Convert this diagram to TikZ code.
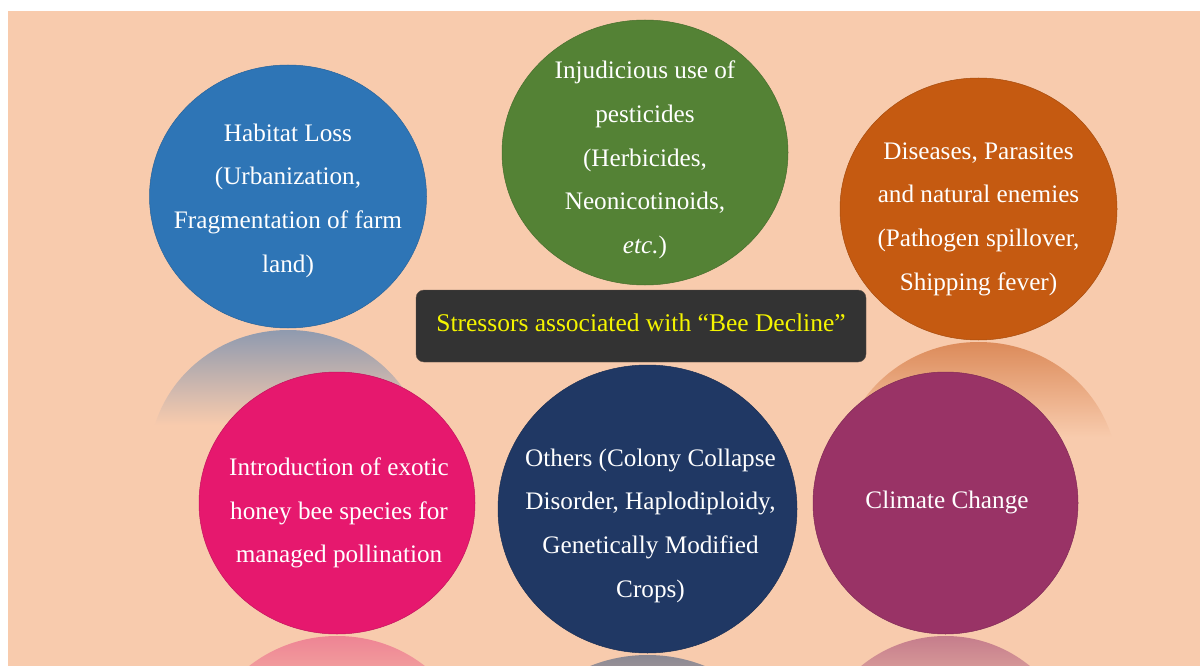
\documentclass[tikz,border=0pt]{standalone}
\usepackage{fontspec}
\setmainfont{Liberation Serif}
\usetikzlibrary{shapes.geometric}

\definecolor{peach}{HTML}{F8CBAD}
\definecolor{habitatblue}{HTML}{2E75B6}
\definecolor{pesticidegreen}{HTML}{548235}
\definecolor{diseaseorange}{HTML}{C55A11}
\definecolor{exoticpink}{HTML}{E6186E}
\definecolor{othersnavy}{HTML}{203864}
\definecolor{climatepurple}{HTML}{993366}
\definecolor{boxgrey}{HTML}{333333}
\definecolor{boxedge}{HTML}{5E524A}
\definecolor{titleyellow}{HTML}{F4F400}
\definecolor{bluetint}{HTML}{8F9AAF}
\definecolor{orangetint}{HTML}{DC8B5A}
\definecolor{pinktint}{HTML}{EE8494}
\definecolor{navytint}{HTML}{8A8893}
\definecolor{purpletint}{HTML}{C57D8C}

\begin{document}
\begin{tikzpicture}[
  x = 1pt, y = -1pt,
  stressor/.style = {
    shape = ellipse,
    draw = #1!85!black,
    line width = 0.5pt,
    fill = #1,
    inner sep = 0pt,
    outer sep = 0pt,
  },
  caption/.style = {
    text = white,
    align = center,
    inner sep = 0pt,
    font = \fontsize{25.2}{43.7}\selectfont,
  }
]
  \useasboundingbox (0, 0) rectangle (1200, 666);
  \fill[white] (0, 0) rectangle (1200, 666);
  \fill[peach] (8, 11) rectangle (1200, 666);

  % mirrored, fading copies under the circles
  \foreach \cx/\ty/\rx/\ry/\tint in {
      288/330/138.5/131.5/bluetint, 978.5/342/138.5/131/orangetint,
      337/636/138/131/pinktint, 647.5/655/149.5/144/navytint,
      945.5/636/132.5/131/purpletint} {
    \begin{scope}
      \clip (\cx, \ty+\ry) ellipse [x radius = \rx, y radius = \ry];
      \shade[top color = \tint, bottom color = peach]
        (\cx-\rx, \ty) rectangle (\cx+\rx, \ty+95);
    \end{scope}
  }

  \node[stressor = habitatblue, minimum width = 277, minimum height = 263] (habitat) at (288, 196.5) {};
  \node[stressor = pesticidegreen, minimum width = 286, minimum height = 265] (pesticide) at (645, 152.5) {};
  \node[stressor = diseaseorange, minimum width = 277, minimum height = 262] (disease) at (978.5, 209) {};
  \node[stressor = exoticpink, minimum width = 276, minimum height = 262] (exotic) at (337, 503) {};
  \node[stressor = othersnavy, minimum width = 299, minimum height = 288] (others) at (647.5, 509) {};
  \node[stressor = climatepurple, minimum width = 265, minimum height = 262] (climate) at (945.5, 503) {};

  \node[fill = boxgrey, draw = boxedge, rounded corners = 8pt,
    minimum width = 450, minimum height = 72, text depth = 7pt,
    text = titleyellow, font = \fontsize{25.5}{30}\selectfont]
    (stressors) at (641, 326) {Stressors associated with “Bee Decline”};

  \node[caption] (habitat-text) at ([yshift = -4pt]habitat.center)
    {Habitat Loss\\(Urbanization,\\Fragmentation of farm\\land)};
  \node[caption] (pesticide-text) at ([yshift = -7.5pt]pesticide.center)
    {Injudicious use of\\pesticides\\(Herbicides,\\Neonicotinoids,\\\textit{etc.})};
  \node[caption] (disease-text) at ([yshift = -10pt]disease.center)
    {Diseases, Parasites\\and natural enemies\\(Pathogen spillover,\\Shipping fever)};
  \node[caption] (exotic-text) at ([xshift = 2pt, yshift = -10pt]exotic.center)
    {Introduction of exotic\\honey bee species for\\managed pollination};
  \node[caption] (others-text) at ([xshift = 3pt, yshift = -16.5pt]others.center)
    {Others (Colony Collapse\\Disorder, Haplodiploidy,\\Genetically Modified\\Crops)};
  \node[caption] (climate-text) at ([xshift = 1.5pt, yshift = 1pt]climate.center) {Climate Change};
\end{tikzpicture}
\end{document}
